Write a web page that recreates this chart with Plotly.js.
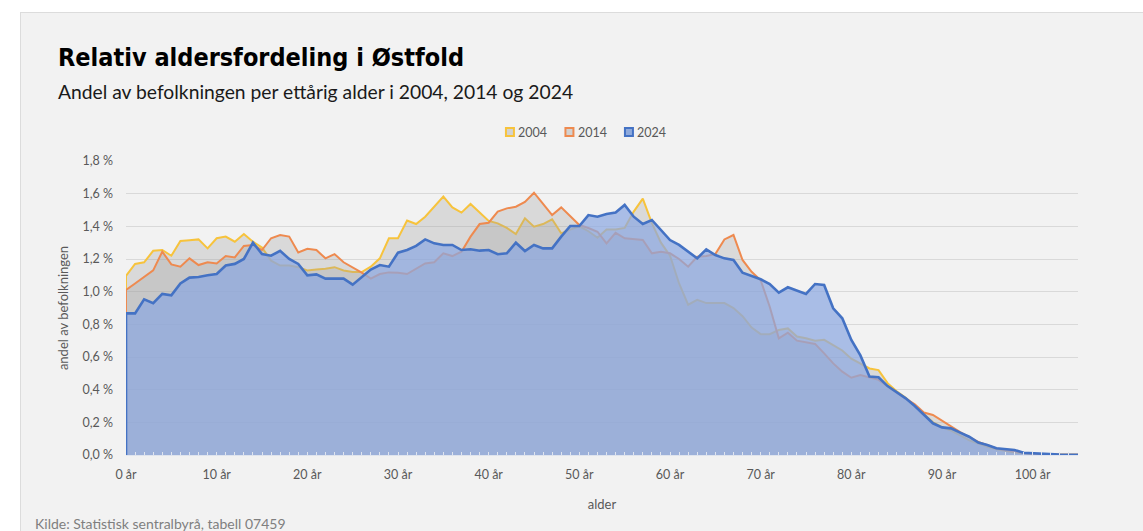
<!DOCTYPE html>
<html>
<head>
<meta charset="utf-8">
<script src="https://cdn.plot.ly/plotly-3.0.1.min.js"></script>
<style>
  html, body { margin:0; padding:0; background:#ffffff; width:1143px; height:531px; overflow:hidden; }
  #panel { position:absolute; left:20px; top:12px; width:1140px; height:530px; background:#f2f2f2; border:1px solid #dcdcdc; }
  #chart { position:absolute; left:0; top:0; width:1143px; height:531px; }
</style>
</head>
<body>
<div id="panel"></div>
<div id="chart"></div>
<script>
// Ages 0..105
const ages = Array.from({length: 106}, (_, i) => i);

const tickAges = [0, 10, 20, 30, 40, 50, 60, 70, 80, 90, 100];
const tickLabels = tickAges.map(a => a + ' år');

const share2004 = [
  1.096, 1.17, 1.18, 1.25, 1.255, 1.22, 1.31, 1.315, 1.32, 1.265,
  1.327, 1.337, 1.306, 1.353, 1.306, 1.27, 1.19, 1.16, 1.16, 1.15,
  1.13, 1.135, 1.14, 1.15, 1.13, 1.12, 1.12, 1.153, 1.204, 1.327,
  1.327, 1.435, 1.414, 1.459, 1.52, 1.582, 1.516, 1.484, 1.537, 1.484,
  1.433, 1.418, 1.39, 1.353, 1.449, 1.398, 1.414, 1.443, 1.357, 1.38,
  1.40, 1.37, 1.33, 1.38, 1.38, 1.39, 1.49, 1.57, 1.42, 1.30,
  1.22, 1.05, 0.92, 0.95, 0.93, 0.93, 0.93, 0.90, 0.85, 0.78,
  0.74, 0.74, 0.765, 0.775, 0.725, 0.715, 0.70, 0.705, 0.67, 0.64,
  0.59, 0.56, 0.53, 0.52, 0.44, 0.39, 0.35, 0.30, 0.25, 0.20,
  0.17, 0.15, 0.12, 0.09, 0.07, 0.05, 0.035, 0.025, 0.015, 0.01,
  0.006, 0.004, 0.002, 0.001, 0.001, 0.001
];

const share2014 = [
  1.01, 1.05, 1.09, 1.13, 1.245, 1.167, 1.153, 1.204, 1.163, 1.18,
  1.173, 1.218, 1.21, 1.28, 1.286, 1.255, 1.327, 1.347, 1.337, 1.24,
  1.263, 1.255, 1.204, 1.23, 1.18, 1.15, 1.116, 1.08, 1.108, 1.118,
  1.116, 1.108, 1.143, 1.173, 1.18, 1.235, 1.218, 1.245, 1.337, 1.414,
  1.422, 1.49, 1.51, 1.52, 1.55, 1.606, 1.537, 1.469, 1.516, 1.463,
  1.408, 1.39, 1.367, 1.296, 1.36, 1.327, 1.32, 1.316, 1.235, 1.245,
  1.235, 1.20, 1.153, 1.214, 1.218, 1.23, 1.32, 1.347, 1.194, 1.122,
  1.07, 0.908, 0.714, 0.749, 0.70, 0.688, 0.68, 0.622, 0.561, 0.51,
  0.473, 0.49, 0.476, 0.46, 0.42, 0.38, 0.345, 0.31, 0.26, 0.245,
  0.21, 0.17, 0.14, 0.11, 0.08, 0.06, 0.04, 0.03, 0.02, 0.012,
  0.008, 0.005, 0.003, 0.002, 0.001, 0.001
];

const share2024 = [
  0.867, 0.867, 0.953, 0.93, 0.986, 0.978, 1.05, 1.086, 1.09, 1.10,
  1.108, 1.16, 1.17, 1.20, 1.30, 1.23, 1.22, 1.25, 1.20, 1.17,
  1.10, 1.106, 1.08, 1.08, 1.08, 1.043, 1.09, 1.135, 1.163, 1.153,
  1.239, 1.255, 1.28, 1.32, 1.296, 1.286, 1.286, 1.255, 1.26, 1.251,
  1.255, 1.229, 1.235, 1.30, 1.249, 1.286, 1.265, 1.265, 1.337, 1.402,
  1.402, 1.469, 1.459, 1.476, 1.484, 1.531, 1.459, 1.414, 1.439, 1.378,
  1.316, 1.286, 1.245, 1.204, 1.259, 1.224, 1.204, 1.194, 1.116, 1.096,
  1.076, 1.047, 0.994, 1.027, 1.006, 0.986, 1.047, 1.041, 0.898, 0.837,
  0.704, 0.61, 0.48, 0.476, 0.422, 0.385, 0.347, 0.30, 0.245, 0.194,
  0.169, 0.163, 0.137, 0.112, 0.076, 0.061, 0.041, 0.037, 0.031, 0.014,
  0.010, 0.006, 0.003, 0.002, 0.001, 0.001
];

const seriesNames = ['2004', '2014', '2024'];

// close the area outline down to the baseline at both ends (as the Excel area border does)
function closed(vals) {
  return {
    x: [ages[0]].concat(ages, [ages[ages.length - 1]]),
    y: [0].concat(vals, [0])
  };
}

const styles = [
  {line: '#F7C33C', width: 2, fill: 'rgba(160,160,160,0.30)'},
  {line: '#EE8A4F', width: 2, fill: 'rgba(160,160,160,0.30)'},
  {line: '#4472C4', width: 2.6, fill: 'rgba(140,168,224,0.72)'}
];
const legendFill = ['#d2d2d2', '#d2d2d2', '#8faadc'];

const data = [share2004, share2014, share2024].map((vals, i) => {
  const c = closed(vals);
  return {
    type: 'scatter', mode: 'lines', x: c.x, y: c.y,
    fill: 'tozeroy', fillcolor: styles[i].fill,
    line: {color: styles[i].line, width: styles[i].width, shape: 'linear'},
    name: seriesNames[i], showlegend: false, hoverinfo: 'skip'
  };
});

const font = 'Lato, "Open Sans", sans-serif';
const axisFont = {family: font, size: 12.5, color: '#595959'};

// Legend drawn as swatches + labels above the plot, like the original
const legendY = 1 + 29 / 294;           // legend row, in paper units
const legendStart = 0.4033;             // first swatch centre (paper x)
const legendStep = 0.0625;              // spacing between entries (paper x)
const legendShapes = seriesNames.map((n, i) => ({
  type: 'rect', xref: 'paper', yref: 'paper',
  xsizemode: 'pixel', ysizemode: 'pixel',
  xanchor: legendStart + i * legendStep, yanchor: legendY,
  x0: -4, x1: 4, y0: -4, y1: 4,
  fillcolor: legendFill[i], line: {color: styles[i].line, width: 2}
}));
const legendLabels = seriesNames.map((n, i) => ({
  xref: 'paper', yref: 'paper', x: legendStart + i * legendStep + 0.0065, y: legendY,
  xanchor: 'left', yanchor: 'middle', text: n, showarrow: false,
  font: {family: font, size: 12.5, color: '#595959'}
}));

const layout = {
  width: 1143, height: 531,
  margin: {l: 126, r: 65, t: 161, b: 76},
  paper_bgcolor: 'rgba(0,0,0,0)',
  plot_bgcolor: 'rgba(0,0,0,0)',
  separators: ',.',
  showlegend: false,
  xaxis: {
    range: [0, 105],
    tickmode: 'array', tickvals: tickAges, ticktext: tickLabels,
    tickfont: axisFont,
    ticks: 'inside', ticklen: 3, tickcolor: '#dfe4ee',
    minor: {dtick: 1, tick0: 0, ticks: 'inside', ticklen: 3, tickcolor: '#dfe4ee', showgrid: false},
    ticklabelstandoff: 8,
    showgrid: false, zeroline: false,
    showline: true, linecolor: '#dfe4ee', linewidth: 1,
    title: {text: 'alder', font: {family: font, size: 13, color: '#595959'}, standoff: 18},
    fixedrange: true
  },
  yaxis: {
    range: [0, 1.8], dtick: 0.2, tick0: 0,
    tickformat: '.1f', ticksuffix: ' %',
    tickfont: axisFont,
    ticks: '', ticklabelstandoff: 12,
    showgrid: true, gridcolor: '#d9d9d9', gridwidth: 1,
    zeroline: false, showline: false,
    title: {text: 'andel av befolkningen', font: {family: font, size: 13, color: '#595959'}, standoff: 10},
    fixedrange: true
  },
  shapes: legendShapes,
  annotations: [
    {
      xref: 'paper', yref: 'paper', x: -0.0735, y: 1.352, xanchor: 'left', yanchor: 'middle',
      text: '<b>Relativ aldersfordeling i Østfold</b>', showarrow: false,
      font: {family: '"Liberation Sans Narrow", "DejaVu Sans Condensed", "Arial Narrow", sans-serif', size: 25, color: '#000000'}
    },
    {
      xref: 'paper', yref: 'paper', x: -0.0735, y: 1.236, xanchor: 'left', yanchor: 'middle',
      text: 'Andel av befolkningen per ettårig alder i 2004, 2014 og 2024', showarrow: false,
      font: {family: font, size: 19.3, color: '#1a1a1a'}
    },
    {
      xref: 'paper', yref: 'paper', x: -0.098, y: -0.233, xanchor: 'left', yanchor: 'middle',
      text: 'Kilde: Statistisk sentralbyrå, tabell 07459', showarrow: false,
      font: {family: font, size: 14, color: '#7f7f7f'}
    }
  ].concat(legendLabels)
};

Plotly.newPlot('chart', data, layout, {displayModeBar: false, staticPlot: true});
</script>
</body>
</html>
